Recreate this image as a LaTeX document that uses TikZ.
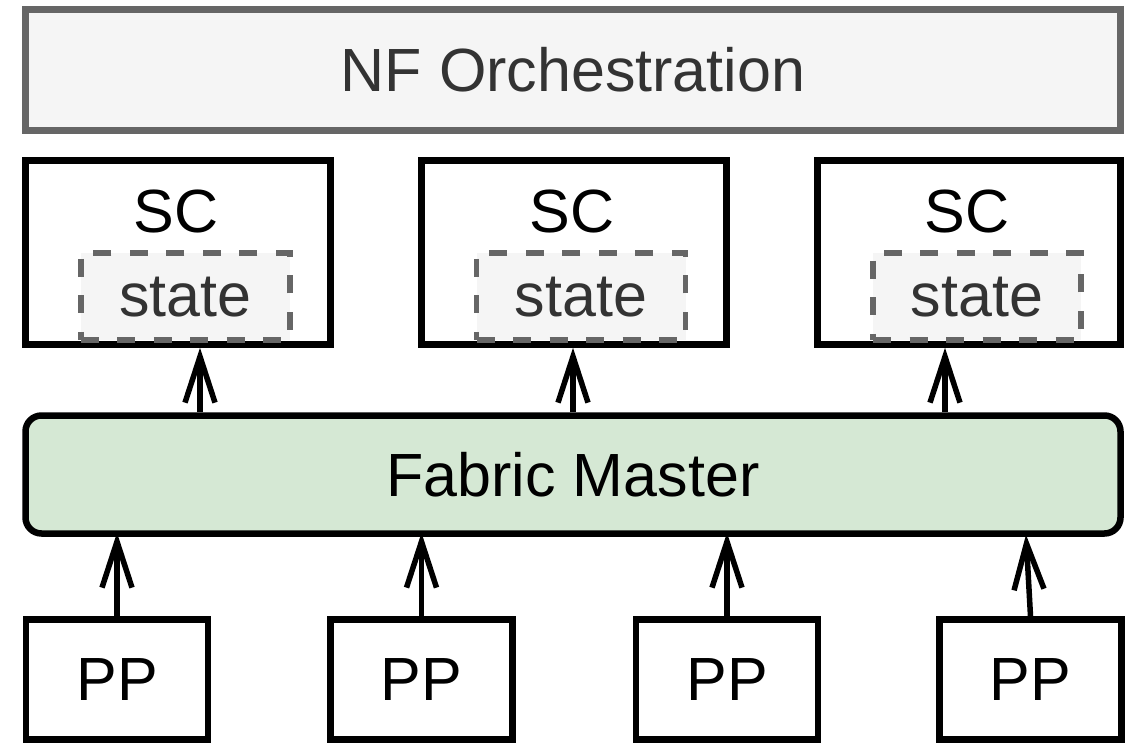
\documentclass[tikz,border=0pt]{standalone}
\usepackage{fontspec}
\setmainfont{Liberation Sans}
\usetikzlibrary{arrows.meta,calc}

\definecolor{boxgray}{HTML}{666666}
\definecolor{lightfill}{HTML}{F5F5F5}
\definecolor{darktext}{HTML}{333333}
\definecolor{fabricgreen}{HTML}{D5E8D4}

\tikzset{
  bigtext/.style={font=\fontsize{61}{70}\selectfont},
  orchbox/.style={draw=boxgray, fill=lightfill, line width=6.5pt, inner sep=0pt,
                  minimum width=1095pt, minimum height=121pt, text=darktext, bigtext},
  scbox/.style={draw=black, fill=white, line width=6.5pt, inner sep=0pt,
                minimum height=184pt},
  statebox/.style={draw=boxgray, fill=lightfill, line width=5.5pt, inner sep=0pt,
                   dash pattern=on 18pt off 18.5pt, minimum width=209pt,
                   minimum height=87pt, text=darktext, bigtext,
                   text height=41pt, text depth=0pt},
  fabricbox/.style={draw=black, fill=fabricgreen, line width=6.5pt, inner sep=0pt,
                    rounded corners=16pt, minimum width=1095pt, minimum height=118pt,
                    bigtext},
  ppbox/.style={draw=black, fill=white, line width=6.5pt, inner sep=0pt,
                minimum width=182pt, minimum height=120pt, bigtext},
  sclabel/.style={bigtext, anchor=base, inner sep=0pt},
  uparrow/.style={line width=5.5pt, -{Straight Barb[length=46pt,width=30pt]}},
}

\begin{document}
\begin{tikzpicture}[x=1pt, y={(0pt,-1pt)}]
  \useasboundingbox (0,0) rectangle (1125,743);

  % orchestration layer
  \node[orchbox] (nf) at (573,70) {NF Orchestration};

  % controllers, each holding its state
  \node[scbox, minimum width=305pt] (sc1) at (178,252.5) {};
  \node[scbox, minimum width=305pt] (sc2) at (574,252.5) {};
  \node[scbox, minimum width=303pt] (sc3) at (969,252.5) {};
  \node[sclabel] (sc1t) at (176,233) {SC};
  \node[sclabel] (sc2t) at (572,233) {SC};
  \node[sclabel] (sc3t) at (967,233) {SC};
  \node[statebox] (st1) at (185.25,296.5) {state};
  \node[statebox] (st2) at (581,296.5) {state};
  \node[statebox, minimum width=208pt] (st3) at (977,296.5) {state};

  % fabric master
  \node[fabricbox] (fm) at (573,474.5) {Fabric Master};

  % packet processors
  \node[ppbox] (pp1) at (117,679.5) {PP};
  \node[ppbox] (pp2) at (421.5,679.5) {PP};
  \node[ppbox] (pp3) at (727,679.5) {PP};
  \node[ppbox] (pp4) at (1030.5,679.5) {PP};

  % arrow columns from the fabric master up to the controllers
  \coordinate (c1) at (200,0);
  \coordinate (c2) at (573,0);
  \coordinate (c3) at (945,0);
  \draw[uparrow] (fm.north -| c1) -- (sc1.south -| c1);
  \draw[uparrow] (fm.north -| c2) -- (sc2.south -| c2);
  \draw[uparrow] (fm.north -| c3) -- (sc3.south -| c3);

  % packet processors report to the fabric master
  \draw[uparrow] (pp1.north) -- ([yshift=4pt]fm.south -| pp1.north);
  \draw[uparrow] (pp2.north) -- ([yshift=4pt]fm.south -| pp2.north);
  \draw[uparrow] (pp3.north) -- ([yshift=4pt]fm.south -| pp3.north);
  \draw[uparrow] (pp4.north) -- ($(fm.south -| pp4.north)+(-4.5,-2)$);
\end{tikzpicture}
\end{document}
